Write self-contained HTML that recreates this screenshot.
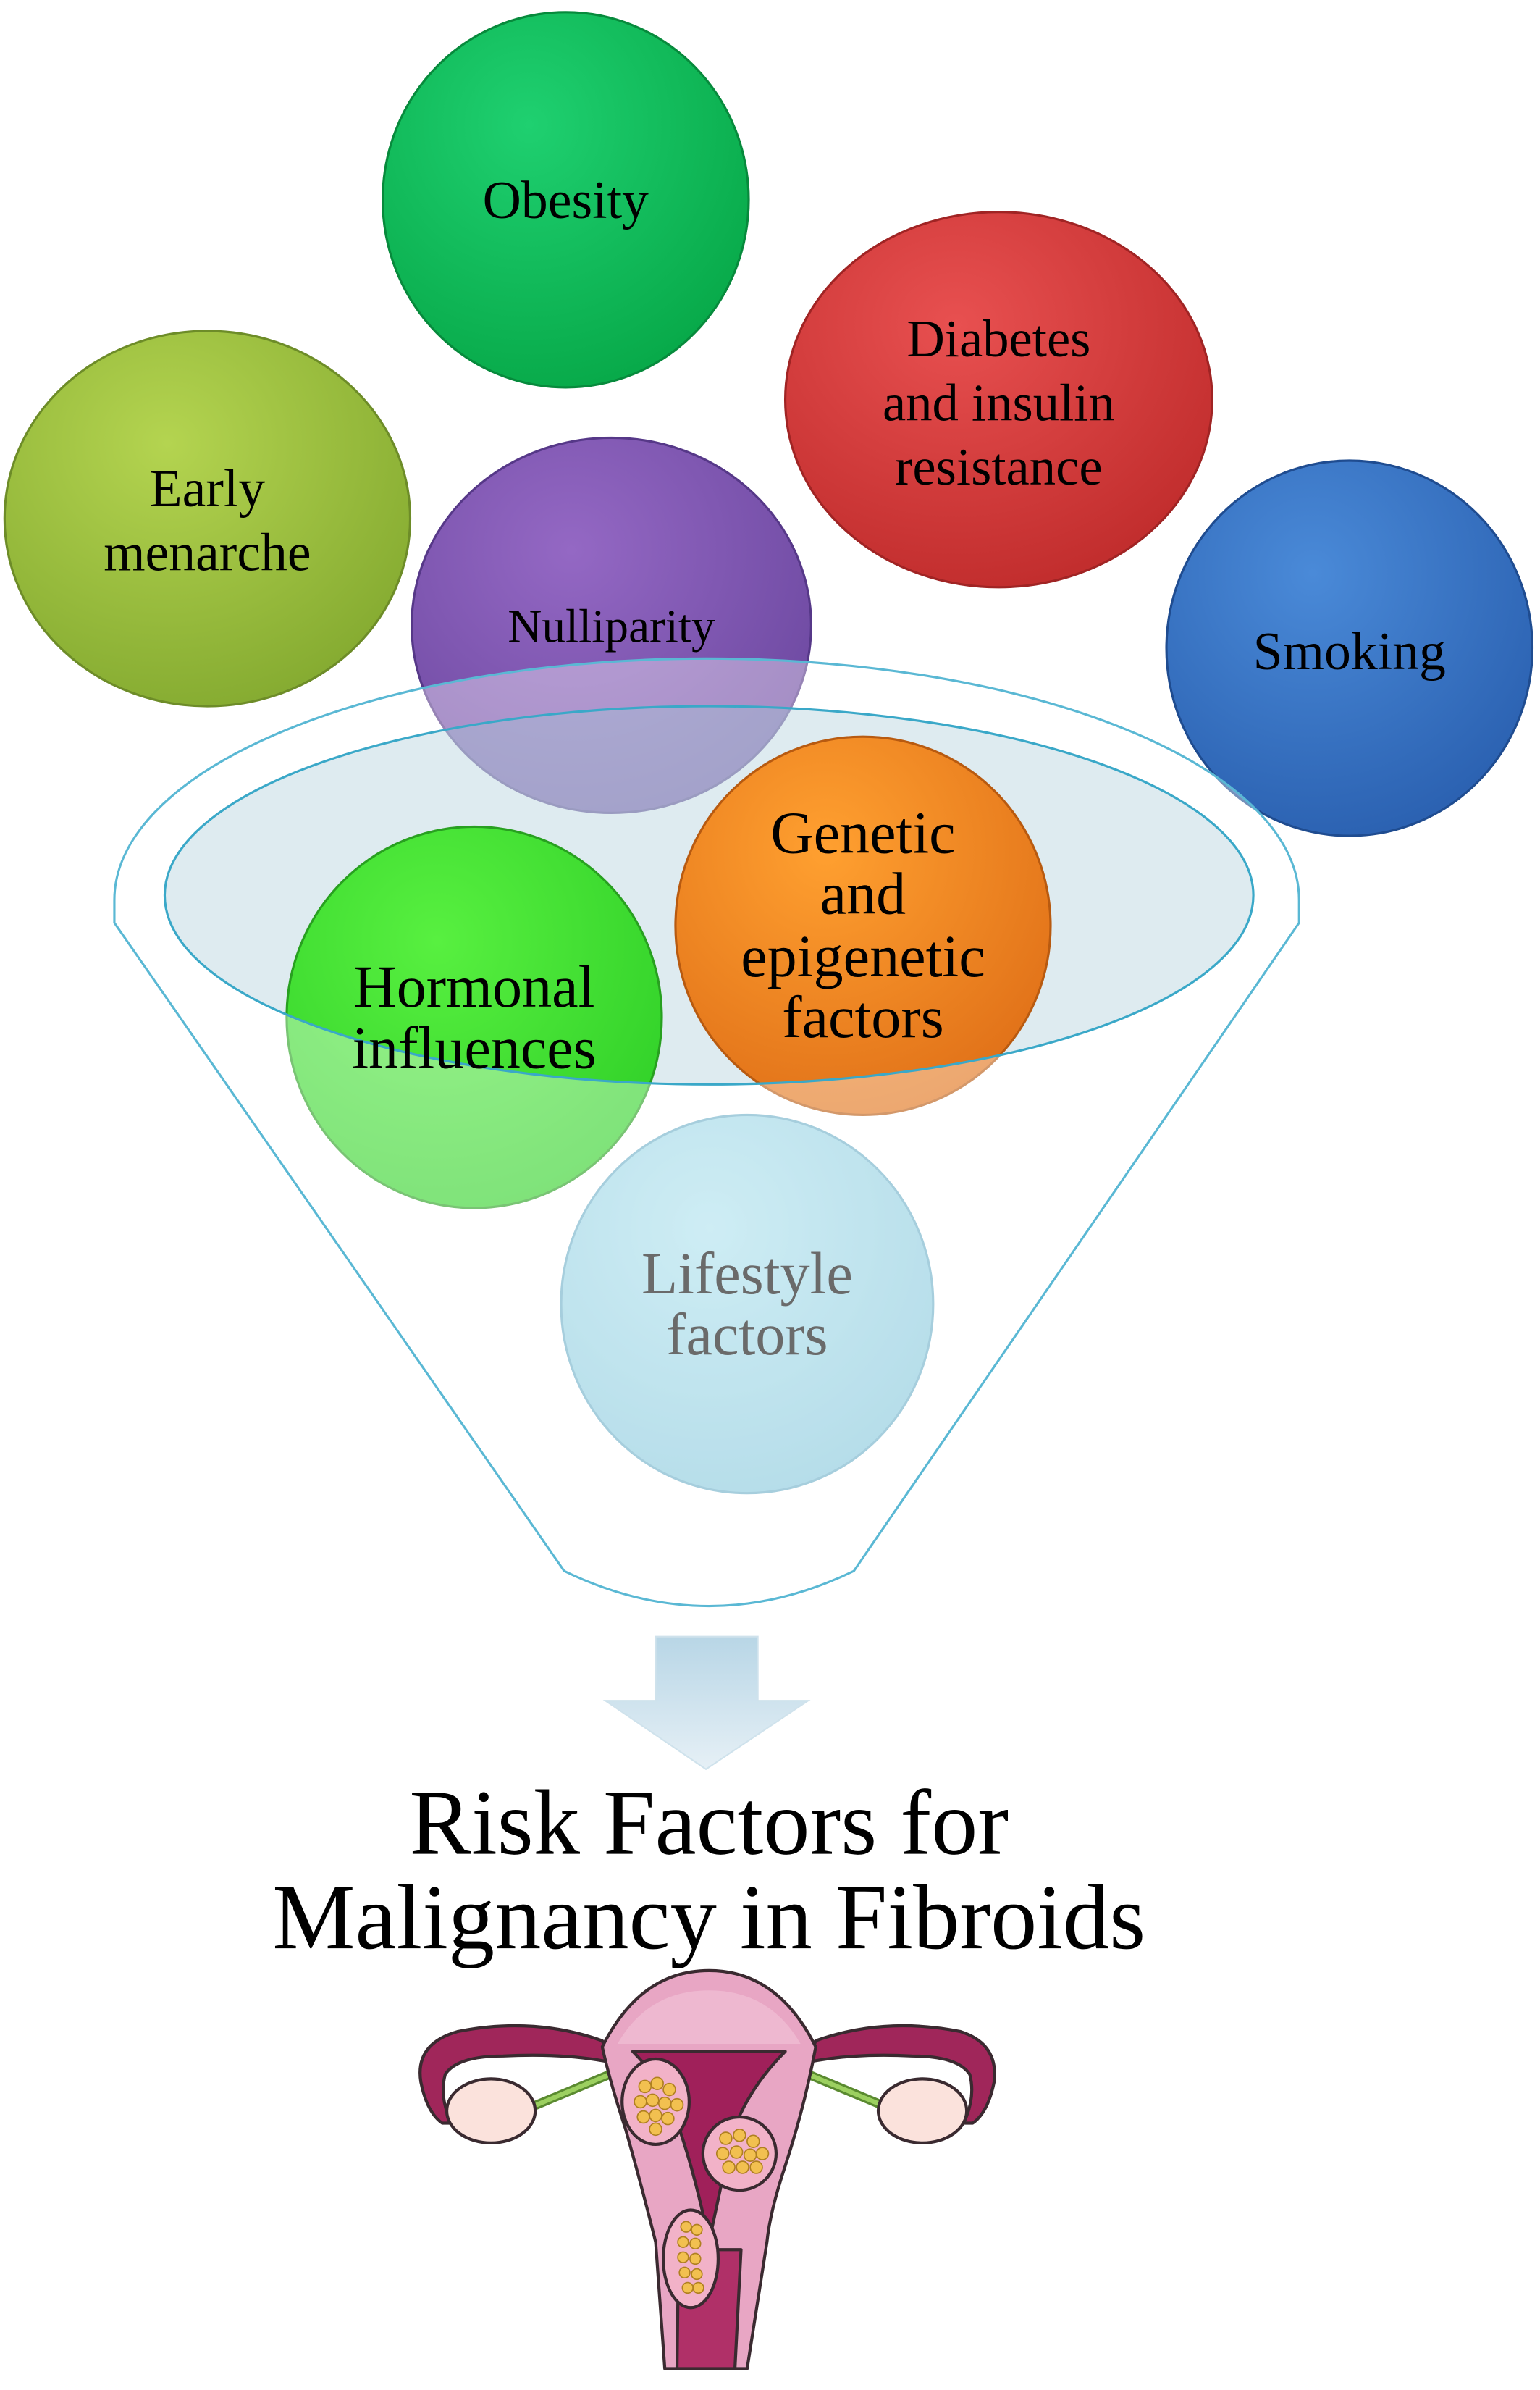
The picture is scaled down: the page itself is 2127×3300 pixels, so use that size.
<!DOCTYPE html>
<html><head><meta charset="utf-8"><style>
html,body{margin:0;padding:0;background:#fff;}
svg{display:block;}
text{font-family:"Liberation Serif",serif;text-anchor:middle;dominant-baseline:central;}
</style></head><body>
<svg width="2127" height="3300" viewBox="0 0 1010 1567" xmlns="http://www.w3.org/2000/svg">
<defs>
<radialGradient id="gOb" cx="40%" cy="30%" r="75%"><stop offset="0" stop-color="#1fd070"/><stop offset="1" stop-color="#07a848"/></radialGradient>
<radialGradient id="gDi" cx="40%" cy="30%" r="75%"><stop offset="0" stop-color="#e85050"/><stop offset="1" stop-color="#c02c2c"/></radialGradient>
<radialGradient id="gEa" cx="40%" cy="30%" r="75%"><stop offset="0" stop-color="#b4d450"/><stop offset="1" stop-color="#84aa30"/></radialGradient>
<radialGradient id="gNu" cx="40%" cy="30%" r="75%"><stop offset="0" stop-color="#9468c4"/><stop offset="1" stop-color="#6c48a0"/></radialGradient>
<radialGradient id="gSm" cx="40%" cy="30%" r="75%"><stop offset="0" stop-color="#4a8ad8"/><stop offset="1" stop-color="#2a60b0"/></radialGradient>
<radialGradient id="gGe" cx="40%" cy="30%" r="75%"><stop offset="0" stop-color="#ffa030"/><stop offset="1" stop-color="#e07018"/></radialGradient>
<radialGradient id="gHo" cx="40%" cy="30%" r="75%"><stop offset="0" stop-color="#58f040"/><stop offset="1" stop-color="#30d028"/></radialGradient>
<radialGradient id="gLi" cx="40%" cy="30%" r="75%"><stop offset="0" stop-color="#b0e2ee"/><stop offset="1" stop-color="#88c8dc"/></radialGradient>
<linearGradient id="gAr" x1="0" y1="0" x2="0" y2="1"><stop offset="0" stop-color="#b8d6e6"/><stop offset="1" stop-color="#e6f0f6"/></linearGradient>
</defs>

<ellipse cx="136" cy="340" rx="133" ry="123" fill="url(#gEa)" stroke="#6d8c28" stroke-width="1.5"/>
<text x="136" y="320" font-size="35">Early</text>
<text x="136" y="362" font-size="35">menarche</text>

<ellipse cx="371" cy="131" rx="120" ry="123" fill="url(#gOb)" stroke="#078a3c" stroke-width="1.5"/>
<text x="371" y="131" font-size="35">Obesity</text>

<ellipse cx="655" cy="262" rx="140" ry="123" fill="url(#gDi)" stroke="#a02424" stroke-width="1.5"/>
<text x="655" y="222" font-size="34.5">Diabetes</text>
<text x="655" y="264" font-size="34.5">and insulin</text>
<text x="655" y="306" font-size="34.5">resistance</text>

<ellipse cx="885" cy="425" rx="120" ry="123" fill="url(#gSm)" stroke="#1f4c90" stroke-width="1.5"/>
<text x="885" y="427" font-size="35">Smoking</text>

<ellipse cx="401" cy="410" rx="131" ry="123" fill="url(#gNu)" stroke="#563888" stroke-width="1.5"/>

<ellipse cx="465" cy="587" rx="357" ry="124" fill="#c8dde6" fill-opacity="0.6" stroke="none"/>

<ellipse cx="566" cy="607" rx="123" ry="124" fill="url(#gGe)" stroke="#b85a10" stroke-width="1.5"/>
<ellipse cx="311" cy="667" rx="123" ry="125" fill="url(#gHo)" stroke="#28a020" stroke-width="1.5"/>
<ellipse cx="490" cy="855" rx="122" ry="124" fill="url(#gLi)" stroke="#70b0c8" stroke-width="1.5"/>

<path fill-rule="evenodd" fill="#ffffff" fill-opacity="0.38" stroke="none"
 d="M75,590 A388,158 0 0 1 852,590 L852,605 L560,1030 Q465,1076 370,1030 L75,605 Z
    M108,587 A357,124 0 0 0 822,587 A357,124 0 0 0 108,587 Z"/>
<ellipse cx="465" cy="587" rx="357" ry="124" fill="none" stroke="#3aa8c8" stroke-width="1.5"/>
<path fill="none" stroke="#5ab8d4" stroke-width="1.5"
 d="M75,590 A388,158 0 0 1 852,590 L852,605 L560,1030 Q465,1076 370,1030 L75,605 Z"/>

<text x="401" y="411" font-size="31">Nulliparity</text>
<text x="566" y="546" font-size="39">Genetic</text>
<text x="566" y="586" font-size="39">and</text>
<text x="566" y="627" font-size="39">epigenetic</text>
<text x="566" y="667" font-size="39">factors</text>
<text x="311" y="647" font-size="39">Hormonal</text>
<text x="311" y="687" font-size="39">influences</text>
<text x="490" y="835" font-size="39" fill="#6a6a6a">Lifestyle</text>
<text x="490" y="875" font-size="39" fill="#6a6a6a">factors</text>

<path d="M430,1073 L497,1073 L497,1115 L530,1115 L463,1160 L397,1115 L430,1115 Z" fill="url(#gAr)" stroke="#cfe2ec" stroke-width="1"/>

<text x="465" y="1195" font-size="61">Risk Factors for</text>
<text x="465" y="1257" font-size="61">Malignancy in Fibroids</text>

<g stroke="#3a2a30" stroke-width="2" stroke-linejoin="round">
  <path d="M395,1338 Q350,1322 300,1332 Q272,1340 276,1365 Q280,1385 290,1392 L296,1392 Q288,1375 292,1360 Q300,1348 330,1348 Q370,1346 400,1352 Z" fill="#a0265a"/>
  <path d="M535,1338 Q580,1322 630,1332 Q655,1340 652,1365 Q648,1385 638,1392 L632,1392 Q640,1375 636,1360 Q628,1348 598,1348 Q560,1346 530,1352 Z" fill="#a0265a"/>
  <path d="M400,1360 L340,1385" stroke="#5a8a30" stroke-width="6" fill="none"/>
  <path d="M530,1360 L590,1385" stroke="#5a8a30" stroke-width="6" fill="none"/>
  <path d="M400,1360 L340,1385" stroke="#9cd060" stroke-width="3" fill="none"/>
  <path d="M530,1360 L590,1385" stroke="#9cd060" stroke-width="3" fill="none"/>
  <ellipse cx="322" cy="1384" rx="29" ry="21" fill="#fbe2dc"/>
  <ellipse cx="605" cy="1384" rx="29" ry="21" fill="#fbe2dc"/>
  <path d="M395,1342 Q420,1292 465,1292 Q510,1292 535,1342 Q528,1380 515,1420 Q505,1450 503,1470 L490,1553 L436,1553 L430,1470 Q420,1430 410,1395 Q400,1365 395,1342 Z" fill="#e8a6c4"/>
  <path d="M405,1340 Q425,1305 465,1305 Q505,1305 525,1340 Z" fill="#eeb8d0" stroke="none"/>
  <path d="M415,1345 L515,1345 Q490,1370 480,1400 L465,1470 Q455,1420 440,1380 Q430,1360 415,1345 Z" fill="#a0205a"/>
  <path d="M445,1475 L486,1475 L482,1553 L444,1553 Z" fill="#b03068"/>
  <ellipse cx="430" cy="1378" rx="22" ry="28" fill="#f2b2c8"/>
  <ellipse cx="485" cy="1412" rx="24" ry="24" fill="#f2b2c8"/>
  <ellipse cx="453" cy="1481" rx="18" ry="32" fill="#f2b2c8"/>
</g>
<g fill="#f2c050" stroke="#b08020" stroke-width="0.8">
  <circle cx="423" cy="1368" r="4"/><circle cx="431" cy="1366" r="4"/><circle cx="439" cy="1370" r="4"/>
  <circle cx="420" cy="1378" r="4"/><circle cx="428" cy="1377" r="4"/><circle cx="436" cy="1379" r="4"/><circle cx="444" cy="1380" r="4"/>
  <circle cx="422" cy="1388" r="4"/><circle cx="430" cy="1387" r="4"/><circle cx="438" cy="1389" r="4"/><circle cx="430" cy="1396" r="4"/>
  <circle cx="476" cy="1402" r="4"/><circle cx="485" cy="1400" r="4"/><circle cx="494" cy="1404" r="4"/>
  <circle cx="474" cy="1412" r="4"/><circle cx="483" cy="1411" r="4"/><circle cx="492" cy="1413" r="4"/><circle cx="500" cy="1412" r="4"/>
  <circle cx="478" cy="1421" r="4"/><circle cx="487" cy="1421" r="4"/><circle cx="496" cy="1421" r="4"/>
  <circle cx="450" cy="1460" r="3.5"/><circle cx="457" cy="1462" r="3.5"/><circle cx="448" cy="1470" r="3.5"/><circle cx="456" cy="1471" r="3.5"/>
  <circle cx="448" cy="1480" r="3.5"/><circle cx="456" cy="1481" r="3.5"/><circle cx="449" cy="1490" r="3.5"/><circle cx="457" cy="1491" r="3.5"/>
  <circle cx="451" cy="1500" r="3.5"/><circle cx="458" cy="1500" r="3.5"/>
</g>
</svg>
</body></html>
